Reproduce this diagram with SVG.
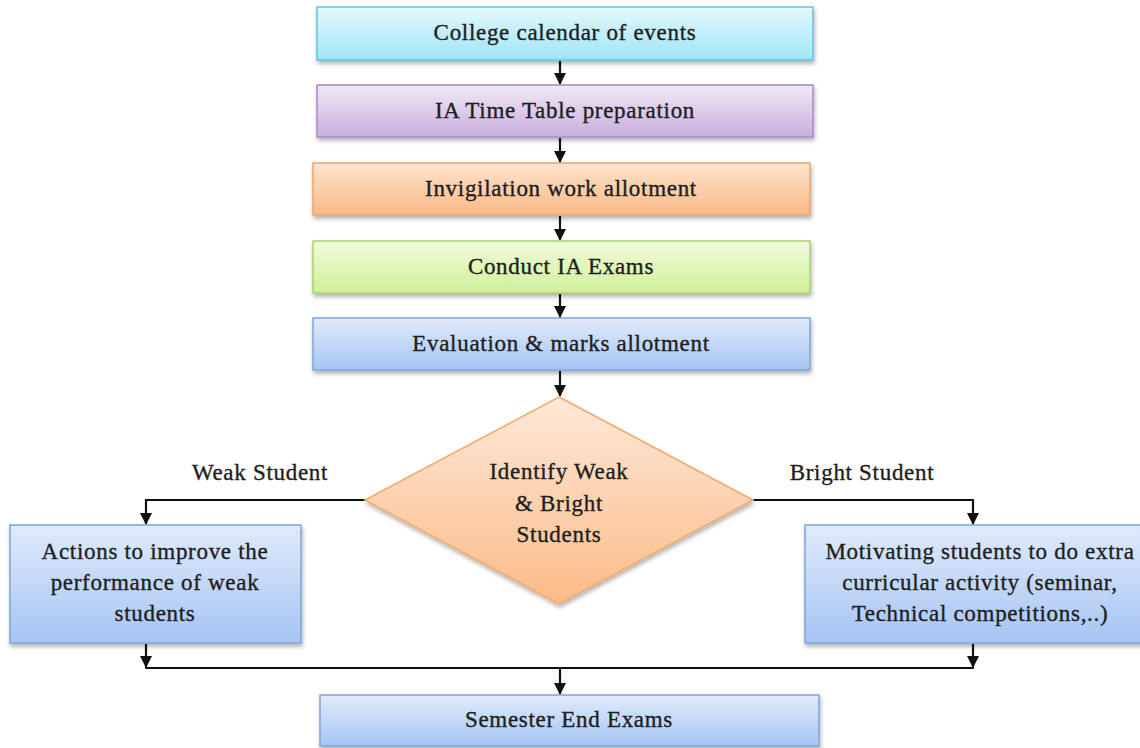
<svg xmlns="http://www.w3.org/2000/svg" width="1140" height="748" viewBox="0 0 1140 748">
<style>
text{font-family:"Liberation Serif","Times New Roman",serif;font-size:23px;letter-spacing:0.7px;fill:#1e1e1e;stroke:#1e1e1e;stroke-width:0.35;text-anchor:middle}
.c{stroke:#111;stroke-width:2.2;fill:none}
.n{stroke-width:1.5}
</style>
<defs>
<filter id="sh" x="-10%" y="-20%" width="120%" height="150%"><feDropShadow dx="1" dy="3" stdDeviation="2" flood-color="#000" flood-opacity="0.3"/></filter>
<marker id="ad" markerWidth="12" markerHeight="12" refX="6" refY="11" orient="0" markerUnits="userSpaceOnUse" viewBox="0 0 12 12"><path d="M0,0 L12,0 L6,12 Z" fill="#111"/></marker>
<linearGradient id="g1" x1="0" y1="0" x2="0" y2="1"><stop offset="0" stop-color="#e4f8fd"/><stop offset="1" stop-color="#9fe5f7"/></linearGradient>
<linearGradient id="g2" x1="0" y1="0" x2="0" y2="1"><stop offset="0" stop-color="#f1e9f6"/><stop offset="1" stop-color="#c8aedd"/></linearGradient>
<linearGradient id="g3" x1="0" y1="0" x2="0" y2="1"><stop offset="0" stop-color="#fde5cf"/><stop offset="1" stop-color="#f9b885"/></linearGradient>
<linearGradient id="g4" x1="0" y1="0" x2="0" y2="1"><stop offset="0" stop-color="#f2fbdd"/><stop offset="1" stop-color="#d0ef98"/></linearGradient>
<linearGradient id="g5" x1="0" y1="0" x2="0" y2="1"><stop offset="0" stop-color="#e0ebfb"/><stop offset="1" stop-color="#a6c4f3"/></linearGradient>
<linearGradient id="g6" x1="0" y1="0" x2="0" y2="1"><stop offset="0" stop-color="#fee9d8"/><stop offset="1" stop-color="#fbbb88"/></linearGradient>
</defs>

<g id="connectors">
<line class="c" x1="560" y1="61" x2="560" y2="84" marker-end="url(#ad)"/>
<line class="c" x1="560" y1="138" x2="560" y2="162" marker-end="url(#ad)"/>
<line class="c" x1="560" y1="216" x2="560" y2="240" marker-end="url(#ad)"/>
<line class="c" x1="560" y1="294" x2="560" y2="317" marker-end="url(#ad)"/>
<line class="c" x1="560" y1="371" x2="560" y2="396" marker-end="url(#ad)"/>
<polyline class="c" points="365,500 146,500 146,524" marker-end="url(#ad)"/>
<polyline class="c" points="753,500 973,500 973,524" marker-end="url(#ad)"/>
<line class="c" x1="146" y1="644" x2="146" y2="667" marker-end="url(#ad)"/>
<line class="c" x1="973" y1="644" x2="973" y2="667" marker-end="url(#ad)"/>
<line class="c" x1="145" y1="668" x2="974" y2="668"/>
<line class="c" x1="560" y1="668" x2="560" y2="694" marker-end="url(#ad)"/>
</g>

<g id="n1"><rect class="n" x="317" y="7" width="496" height="53" fill="url(#g1)" stroke="#5ec6df" filter="url(#sh)"/><text x="565" y="40">College calendar of events</text></g>
<g id="n2"><rect class="n" x="317" y="85" width="496" height="52" fill="url(#g2)" stroke="#a88bc4" filter="url(#sh)"/><text x="565" y="118">IA Time Table preparation</text></g>
<g id="n3"><rect class="n" x="313" y="163" width="497" height="52" fill="url(#g3)" stroke="#f0a363" filter="url(#sh)"/><text x="561" y="196">Invigilation work allotment</text></g>
<g id="n4"><rect class="n" x="313" y="241" width="497" height="52" fill="url(#g4)" stroke="#a9d26a" filter="url(#sh)"/><text x="561" y="274">Conduct IA Exams</text></g>
<g id="n5"><rect class="n" x="313" y="318" width="497" height="52" fill="url(#g5)" stroke="#7ea5da" filter="url(#sh)"/><text x="561" y="351">Evaluation &amp; marks allotment</text></g>
<g id="n6"><polygon class="n" points="559,397 753,500 559,604 365,500" fill="url(#g6)" stroke="#f2a96a" filter="url(#sh)"/>
<text x="559" y="479">Identify Weak</text><text x="559" y="511">&amp; Bright</text><text x="559" y="542">Students</text></g>
<g id="lw"><text x="260" y="480">Weak Student</text></g>
<g id="lb"><text x="862" y="480">Bright Student</text></g>
<g id="n7"><rect class="n" x="10" y="525" width="291" height="118" fill="url(#g5)" stroke="#7ea5da" filter="url(#sh)"/>
<text x="155" y="559">Actions to improve the</text><text x="155" y="590">performance of weak</text><text x="155" y="621">students</text></g>
<g id="n8"><rect class="n" x="805" y="525" width="340" height="118" fill="url(#g5)" stroke="#7ea5da" filter="url(#sh)"/>
<text x="980" y="559">Motivating students to do extra</text><text x="980" y="590">curricular activity (seminar,</text><text x="980" y="621">Technical competitions,..)</text></g>
<g id="n9"><rect class="n" x="320" y="695" width="499" height="51" fill="url(#g5)" stroke="#7ea5da" filter="url(#sh)"/><text x="569" y="727">Semester End Exams</text></g>
</svg>
